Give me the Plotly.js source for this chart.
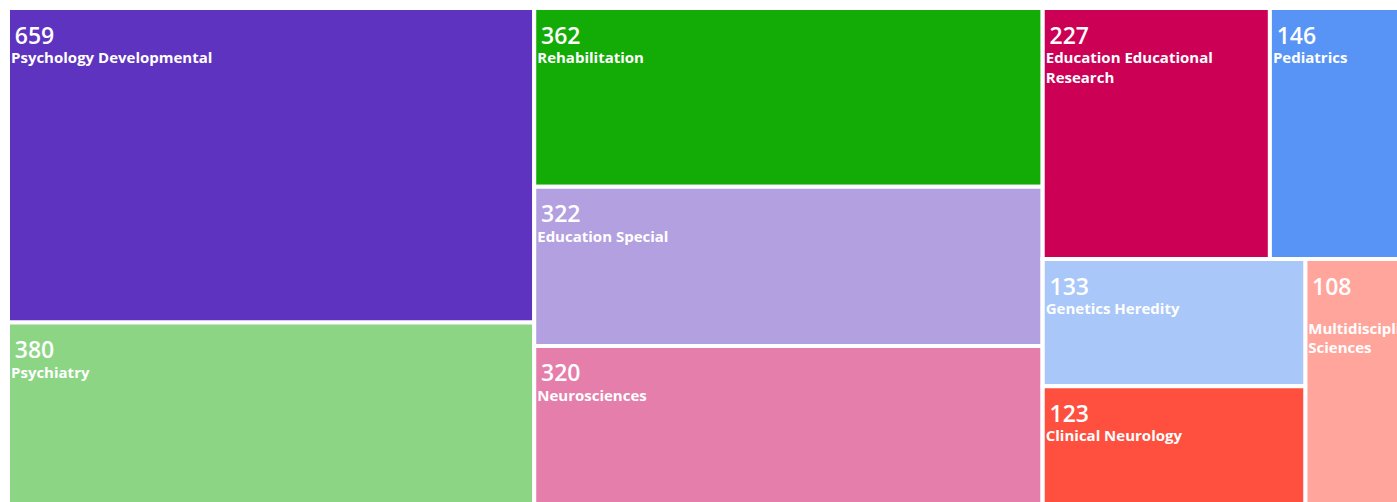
<!DOCTYPE html>
<html>
<head>
<meta charset="utf-8">
<script src="https://cdn.plot.ly/plotly-3.0.1.min.js"></script>
<style>
html, body { margin: 0; padding: 0; overflow: hidden; background: #ffffff; }
#chart { width: 1416px; height: 504px; }
</style>
</head>
<body>
<div id="chart"></div>
<script>
// Leaf categories and their counts
const categories = [
  "Psychology Developmental", "Psychiatry",
  "Rehabilitation", "Education Special", "Neurosciences",
  "Education Educational<br>Research", "Pediatrics",
  "Genetics Heredity", "Clinical Neurology",
  "<br>Multidisciplinary<br>Sciences"
];
const counts = [659, 380, 362, 322, 320, 227, 146, 133, 123, 108];
const colors = [
  "#5e33bf", "#8bd584", "#13ab06", "#b3a0e0", "#e57eaa",
  "#cc0055", "#5794f5", "#a9c7f8", "#ff4f3e", "#ffa59c"
];
// Layout grouping (structure only)
const leafParent = ["A", "A", "B", "B", "B", "C1", "C1", "C2a", "C2a", "C2"];
const groupIds = ["root", "A", "B", "C", "C1", "C2", "C2a"];
const groupParents = ["", "root", "root", "root", "C", "C", "C2"];

const ids = groupIds.concat(categories.map((c, i) => "leaf" + i));
const labels = groupIds.map(() => "").concat(categories);
const parents = groupParents.concat(leafParent);
const values = groupIds.map(() => 0).concat(counts);
const markerColors = groupIds.map(() => "#ffffff").concat(colors);
const templates = groupIds.map(() => "").concat(categories.map(() =>
  "<span style='font-size:12px'>&nbsp;</span><br><span style='font-size:23px;font-weight:600'>&#8201;%{value}</span><br><b>%{label}</b>"));

const FONT = "'Open Sans', 'Noto Sans', sans-serif";
const trace = {
  type: "treemap",
  ids: ids,
  labels: labels,
  parents: parents,
  values: values,
  branchvalues: "remainder",
  sort: true,
  texttemplate: templates,
  textposition: "top left",
  textfont: { family: FONT, size: 15, color: "#ffffff" },
  insidetextfont: { family: FONT, size: 15, color: "#ffffff" },
  marker: {
    colors: markerColors,
    line: { color: "#ffffff", width: 4 },
    pad: { t: 0, l: 0, r: 0, b: 0 }
  },
  tiling: { packing: "slice-dice", pad: 0 },
  pathbar: { visible: false },
  hoverinfo: "skip",
  root: { color: "#ffffff" }
};

const layout = {
  width: 1416,
  height: 504,
  margin: { l: 8, r: 0, t: 8, b: 0 },
  paper_bgcolor: "#ffffff",
  showlegend: false,
  uniformtext: { mode: "show", minsize: 15 }
};

Plotly.newPlot("chart", [trace], layout, { displayModeBar: false, staticPlot: true });
</script>
</body>
</html>
